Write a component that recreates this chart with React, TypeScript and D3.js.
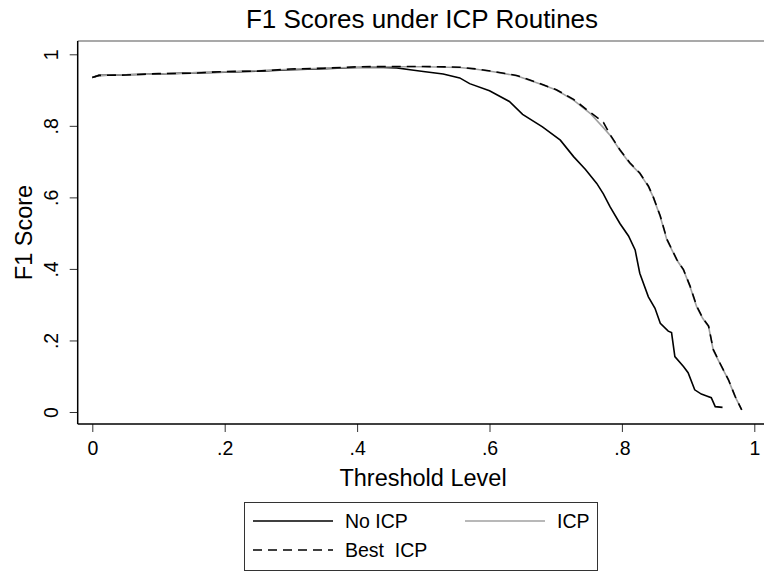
import React, { useEffect, useRef } from "react";
import * as d3 from "d3";

// threshold levels and F1 scores
const thresholdsNoICP = [0, 0.01, 0.05, 0.1, 0.15, 0.2, 0.25, 0.3, 0.35, 0.4, 0.43, 0.46, 0.48, 0.5, 0.53, 0.555, 0.57, 0.6, 0.63, 0.65, 0.68, 0.707, 0.727, 0.745, 0.762, 0.772, 0.782, 0.797, 0.81, 0.82, 0.827, 0.84, 0.85, 0.858, 0.87, 0.875, 0.88, 0.893, 0.9, 0.91, 0.92, 0.928, 0.935, 0.941, 0.952];
const f1NoICP = [0.935, 0.941, 0.943, 0.945, 0.948, 0.95, 0.953, 0.957, 0.96, 0.963, 0.964, 0.962, 0.957, 0.952, 0.945, 0.934, 0.918, 0.898, 0.868, 0.832, 0.797, 0.76, 0.714, 0.678, 0.639, 0.61, 0.574, 0.527, 0.492, 0.453, 0.388, 0.322, 0.29, 0.248, 0.226, 0.222, 0.155, 0.127, 0.11, 0.062, 0.05, 0.045, 0.04, 0.015, 0.013];

const thresholdsICP = [0, 0.01, 0.05, 0.1, 0.15, 0.2, 0.25, 0.3, 0.35, 0.4, 0.45, 0.5, 0.555, 0.58, 0.606, 0.641, 0.681, 0.701, 0.727, 0.752, 0.772, 0.782, 0.797, 0.812, 0.827, 0.84, 0.847, 0.858, 0.868, 0.883, 0.893, 0.903, 0.913, 0.922, 0.931, 0.938, 0.948, 0.961, 0.971, 0.981];
const f1ICP = [0.935, 0.941, 0.943, 0.945, 0.948, 0.951, 0.954, 0.958, 0.961, 0.964, 0.965, 0.965, 0.963, 0.958, 0.951, 0.94, 0.914, 0.9, 0.872, 0.835, 0.795, 0.774, 0.732, 0.695, 0.667, 0.63, 0.602, 0.546, 0.481, 0.425, 0.397, 0.35, 0.294, 0.262, 0.238, 0.173, 0.136, 0.089, 0.043, 0.006];
const f1BestICP = [0.935, 0.941, 0.942, 0.946, 0.947, 0.952, 0.953, 0.959, 0.961, 0.965, 0.966, 0.966, 0.964, 0.959, 0.952, 0.941, 0.915, 0.901, 0.874, 0.838, 0.81, 0.776, 0.733, 0.697, 0.668, 0.632, 0.603, 0.548, 0.483, 0.426, 0.398, 0.352, 0.296, 0.263, 0.24, 0.175, 0.137, 0.09, 0.044, 0.006];

const xTicks = [0, 0.2, 0.4, 0.6, 0.8, 1];
const yTicks = [0, 0.2, 0.4, 0.6, 0.8, 1];
const legendLabels = ["No ICP", "ICP", "Best  ICP"];

const FONT = "'Liberation Sans', Arial, Helvetica, sans-serif";

const fmt = (d: number) => (d === 0 ? "0" : d === 1 ? "1" : String(d).replace("0.", "."));

export default function App() {
  const ref = useRef<SVGSVGElement | null>(null);

  useEffect(() => {
    const svg = d3.select(ref.current);
    svg.selectAll("*").remove();

    const W = 764, H = 572;
    const box = { left: 77.7, top: 41, right: 764, bottom: 424 };
    const x = d3.scaleLinear().domain([0, 1]).range([92.3, 754.3]);
    const y = d3.scaleLinear().domain([0, 1]).range([412, 54.3]);

    svg.append("rect").attr("width", W).attr("height", H).attr("fill", "#fff");

    // title
    svg.append("text")
      .attr("x", 422).attr("y", 28)
      .attr("text-anchor", "middle")
      .style("font-family", FONT).style("font-size", "26px")
      .text("F1 Scores under ICP Routines");

    // plot frame
    svg.append("line")
      .attr("x1", box.left).attr("x2", box.right).attr("y1", box.top).attr("y2", box.top)
      .attr("stroke", "#8c8c8c").attr("stroke-width", 1.5);

    const xAxis = d3.axisBottom(x).tickValues(xTicks).tickFormat(d => fmt(+d)).tickSize(8).tickPadding(9);
    const gx = svg.append("g").attr("transform", `translate(0,${box.bottom})`).call(xAxis);
    gx.select(".domain").remove();
    gx.selectAll("text").style("font-family", FONT).style("font-size", "19.5px").attr("fill", "#000");
    gx.selectAll("line").attr("stroke", "#333");

    const yAxis = d3.axisLeft(y).tickValues(yTicks).tickFormat(d => fmt(+d)).tickSize(8);
    const gy = svg.append("g").attr("transform", `translate(${box.left},0)`).call(yAxis);
    gy.select(".domain").remove();
    gy.selectAll("line").attr("stroke", "#333");
    gy.selectAll("text")
      .attr("transform", "rotate(-90)")
      .attr("x", 0).attr("y", -20).attr("dy", 0)
      .attr("text-anchor", "middle")
      .style("font-family", FONT).style("font-size", "19.5px").attr("fill", "#000");

    svg.append("line")
      .attr("x1", box.left).attr("x2", box.left).attr("y1", box.top).attr("y2", box.bottom)
      .attr("stroke", "#000").attr("stroke-width", 1.5);
    svg.append("line")
      .attr("x1", box.left).attr("x2", box.right).attr("y1", box.bottom).attr("y2", box.bottom)
      .attr("stroke", "#000").attr("stroke-width", 1.5);

    // axis titles
    svg.append("text")
      .attr("x", 423).attr("y", 486)
      .attr("text-anchor", "middle")
      .style("font-family", FONT).style("font-size", "23.5px")
      .text("Threshold Level");
    svg.append("text")
      .attr("transform", `translate(32,${(box.top + box.bottom) / 2}) rotate(-90)`)
      .attr("text-anchor", "middle")
      .style("font-family", FONT).style("font-size", "23.5px")
      .text("F1 Score");

    // series
    const line = d3.line<[number, number]>().x(d => x(d[0])).y(d => y(d[1]));
    const noIcp = thresholdsNoICP.map((t, i) => [t, f1NoICP[i]] as [number, number]);
    const icp = thresholdsICP.map((t, i) => [t, f1ICP[i]] as [number, number]);
    const best = thresholdsICP.map((t, i) => [t, f1BestICP[i]] as [number, number]);

    svg.append("path").datum(noIcp).attr("d", line)
      .attr("fill", "none").attr("stroke", "#000").attr("stroke-width", 1.6);
    svg.append("path").datum(icp).attr("d", line)
      .attr("fill", "none").attr("stroke", "#a0a0a0").attr("stroke-width", 1.6);
    svg.append("path").datum(best).attr("d", line)
      .attr("fill", "none").attr("stroke", "#000").attr("stroke-width", 1.6)
      .attr("stroke-dasharray", "9 6");

    // legend
    const lg = svg.append("g");
    lg.append("rect")
      .attr("x", 244.5).attr("y", 502.5).attr("width", 353).attr("height", 68)
      .attr("fill", "#fff").attr("stroke", "#333").attr("stroke-width", 1);
    const items = [
      { label: legendLabels[0], x0: 253, row: 521, stroke: "#000", dash: null },
      { label: legendLabels[1], x0: 465, row: 521, stroke: "#a0a0a0", dash: null },
      { label: legendLabels[2], x0: 253, row: 550, stroke: "#000", dash: "9 6" },
    ];
    items.forEach(it => {
      lg.append("line")
        .attr("x1", it.x0).attr("x2", it.x0 + 80).attr("y1", it.row).attr("y2", it.row)
        .attr("stroke", it.stroke).attr("stroke-width", 1.6)
        .attr("stroke-dasharray", it.dash);
      lg.append("text")
        .attr("x", it.x0 + 92).attr("y", it.row + 7)
        .style("font-family", FONT).style("font-size", "19.5px")
        .style("white-space", "pre")
        .text(it.label);
    });
  }, []);

  return (
    <svg ref={ref} width={764} height={572}
      style={{ position: "absolute", left: 0, top: 0, display: "block" }} />
  );
}
